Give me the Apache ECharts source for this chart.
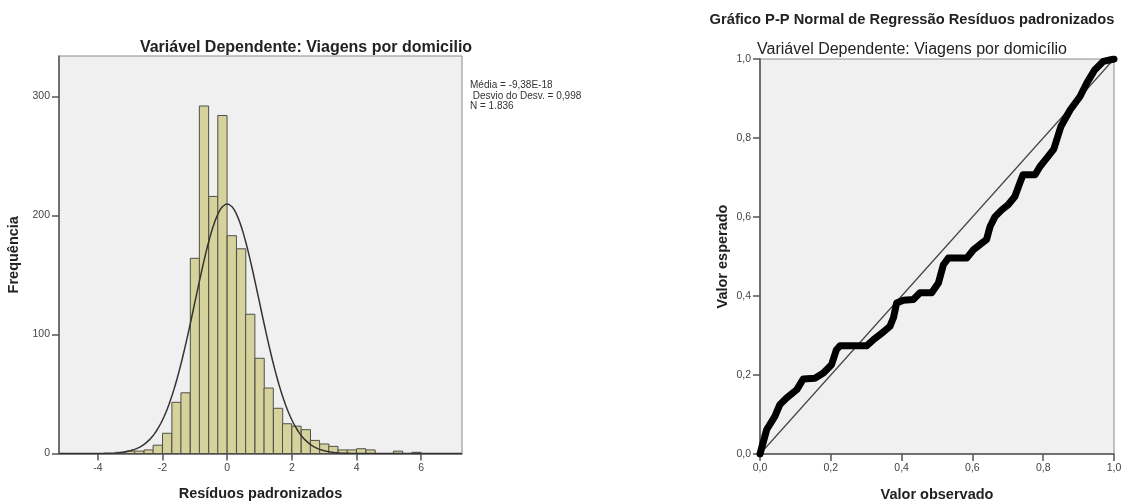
<!DOCTYPE html>
<html>
<head>
<meta charset="utf-8">
<script src="https://cdn.jsdelivr.net/npm/echarts@6/dist/echarts.min.js"></script>
<style>
  html, body { margin: 0; padding: 0; background: #ffffff; }
  #chart { width: 1122px; height: 502px; }
</style>
</head>
<body>
<div id="chart"></div>
<script>
// Histogram of standardized residuals: bin left edges and counts
const binWidth = 0.2857;
const binStart = [-3.43, -3.14, -2.86, -2.57, -2.29, -2.00, -1.71, -1.43, -1.14, -0.86,
  -0.57, -0.29, 0.00, 0.29, 0.57, 0.86, 1.14, 1.43, 1.71, 2.00,
  2.29, 2.57, 2.86, 3.14, 3.43, 3.71, 4.00, 4.29, 4.57, 4.86,
  5.14, 5.43, 5.71];
const binCount = [1, 2, 2, 3, 7, 17, 43, 51, 164, 292,
  216, 284, 183, 172, 117, 80, 55, 38, 25, 23,
  20, 11, 8, 6, 3, 3, 4, 3, 0, 0,
  2, 0, 1];

// Summary statistics shown next to the histogram
const statMean = -9.38e-18;
const statSd = 0.998;
const statN = 1836;
const statLines = ['Média = -9,38E-18', ' Desvio do Desv. = 0,998', 'N = 1.836'];

// Tick labels
const histXTicks = [-4, -2, 0, 2, 4, 6];
const histYTicks = [0, 100, 200, 300];
const ppTicks = [0, 0.2, 0.4, 0.6, 0.8, 1.0];

// Normal P-P plot: observed vs expected cumulative probability
const ppObserved = [0, 0.019, 0.042, 0.056, 0.075, 0.104, 0.122, 0.155, 0.179, 0.202,
  0.216, 0.226, 0.301, 0.32, 0.344, 0.367, 0.377, 0.386, 0.405, 0.433,
  0.452, 0.485, 0.504, 0.518, 0.532, 0.584, 0.603, 0.621, 0.64, 0.65,
  0.664, 0.683, 0.701, 0.72, 0.734, 0.743, 0.777, 0.791, 0.81, 0.83,
  0.85, 0.876, 0.904, 0.923, 0.946, 0.97, 1.0];
const ppExpected = [0, 0.062, 0.095, 0.125, 0.142, 0.163, 0.19, 0.192, 0.205, 0.226,
  0.264, 0.274, 0.274, 0.289, 0.306, 0.323, 0.345, 0.382, 0.389, 0.391,
  0.408, 0.408, 0.433, 0.479, 0.496, 0.496, 0.517, 0.53, 0.543, 0.576,
  0.601, 0.618, 0.631, 0.652, 0.686, 0.707, 0.707, 0.728, 0.749, 0.772,
  0.829, 0.871, 0.905, 0.939, 0.973, 0.994, 1.0];

const FONT = "'Liberation Sans', Arial, sans-serif";
const histXMin = -5.2, histXMax = 7.26, histYMax = 334;

// Fitted normal curve scaled to the histogram (mean, SD, N, bin width)
const normalCurve = [];
for (let x = histXMin; x <= histXMax + 1e-9; x += 0.05) {
  const z = (x - statMean) / statSd;
  const y = statN * binWidth / (statSd * Math.sqrt(2 * Math.PI)) * Math.exp(-0.5 * z * z);
  normalCurve.push([x, y]);
}

const histBars = binStart.map((s, i) => [s, s + binWidth, binCount[i]]);
const ppData = ppObserved.map((o, i) => [o, ppExpected[i]]);

const commaFmt = v => v.toFixed(1).replace('.', ',');

const axisLineStyle = { onZero: false, lineStyle: { color: '#555555', width: 1.5 } };
const tickStyle = { show: true, length: 7, lineStyle: { color: '#555555', width: 1.5 } };
const labelStyle = { color: '#444444', fontFamily: FONT, fontSize: 10.5 };
const nameStyle = { color: '#222222', fontFamily: FONT, fontSize: 14.5, fontWeight: 'bold' };

const chart = echarts.init(document.getElementById('chart'), null, { renderer: 'canvas' });

chart.setOption({
  animation: false,
  backgroundColor: '#ffffff',
  title: [
    {
      text: 'Variável Dependente: Viagens por domicilio',
      left: 301, top: 35, textAlign: 'center',
      textStyle: { fontFamily: FONT, fontSize: 16, fontWeight: 'bold', color: '#222222' }
    },
    {
      text: 'Gráfico P-P Normal de Regressão Resíduos padronizados',
      left: 907, top: 7, textAlign: 'center',
      textStyle: { fontFamily: FONT, fontSize: 14.7, fontWeight: 'bold', color: '#222222' }
    },
    {
      text: 'Variável Dependente: Viagens por domicílio',
      left: 907, top: 37, textAlign: 'center',
      textStyle: { fontFamily: FONT, fontSize: 16, fontWeight: 'normal', color: '#222222' }
    }
  ],
  grid: [
    { left: 59, right: 660, top: 56, bottom: 48.5, show: true, outerBoundsMode: 'none',
      backgroundColor: '#f0f0f0', borderColor: '#8a8a8a', borderWidth: 1 },
    { left: 760, right: 8, top: 59, bottom: 48, show: true, outerBoundsMode: 'none',
      backgroundColor: '#f0f0f0', borderColor: '#8a8a8a', borderWidth: 1 }
  ],
  xAxis: [
    {
      type: 'value', gridIndex: 0, min: histXMin, max: histXMax,
      axisLine: axisLineStyle, splitLine: { show: false },
      axisTick: Object.assign({ customValues: histXTicks }, tickStyle),
      axisLabel: Object.assign({ customValues: histXTicks, margin: 9 }, labelStyle),
      name: 'Resíduos padronizados', nameLocation: 'middle', nameGap: 33,
      nameTextStyle: nameStyle
    },
    {
      type: 'value', gridIndex: 1, min: 0, max: 1,
      axisLine: axisLineStyle, splitLine: { show: false },
      axisTick: Object.assign({ customValues: ppTicks }, tickStyle),
      axisLabel: Object.assign({ customValues: ppTicks, margin: 9, formatter: commaFmt }, labelStyle),
      name: 'Valor observado', nameLocation: 'middle', nameGap: 33,
      nameTextStyle: nameStyle
    }
  ],
  yAxis: [
    {
      type: 'value', gridIndex: 0, min: 0, max: histYMax,
      axisLine: axisLineStyle, splitLine: { show: false },
      axisTick: Object.assign({ customValues: histYTicks }, tickStyle),
      axisLabel: Object.assign({ customValues: histYTicks, margin: 9 }, labelStyle),
      name: 'Frequência', nameLocation: 'middle', nameGap: 38, nameRotate: 90,
      nameTextStyle: nameStyle
    },
    {
      type: 'value', gridIndex: 1, min: 0, max: 1,
      axisLine: axisLineStyle, splitLine: { show: false },
      axisTick: Object.assign({ customValues: ppTicks }, tickStyle),
      axisLabel: Object.assign({ customValues: ppTicks, margin: 9, formatter: commaFmt }, labelStyle),
      name: 'Valor esperado', nameLocation: 'middle', nameGap: 30, nameRotate: 90,
      nameTextStyle: nameStyle
    }
  ],
  graphic: [
    {
      type: 'text', left: 470, top: 80,
      style: {
        text: statLines.join('\n'), fill: '#333333',
        font: "10px 'Liberation Sans', Arial, sans-serif", lineHeight: 10.5
      }
    }
  ],
  series: [
    {
      type: 'custom', xAxisIndex: 0, yAxisIndex: 0,
      data: histBars,
      encode: { x: [0, 1], y: 2 },
      renderItem: function (params, api) {
        const p0 = api.coord([api.value(0), api.value(2)]);
        const p1 = api.coord([api.value(1), 0]);
        return {
          type: 'rect',
          shape: { x: p0[0], y: p0[1], width: p1[0] - p0[0], height: p1[1] - p0[1] },
          style: { fill: '#d6d29c', stroke: '#4f4f4a', lineWidth: 1 }
        };
      },
      z: 2
    },
    {
      type: 'line', xAxisIndex: 0, yAxisIndex: 0,
      data: normalCurve, showSymbol: false, smooth: false,
      lineStyle: { color: '#333333', width: 1.5 },
      z: 3
    },
    {
      type: 'line', xAxisIndex: 1, yAxisIndex: 1,
      data: [[0, 0], [1, 1]], showSymbol: false,
      lineStyle: { color: '#444444', width: 1.2 },
      z: 2
    },
    {
      type: 'line', xAxisIndex: 1, yAxisIndex: 1,
      data: ppData, showSymbol: false,
      lineStyle: { color: '#000000', width: 7, join: 'round', cap: 'round' },
      z: 3
    }
  ]
});
</script>
</body>
</html>
